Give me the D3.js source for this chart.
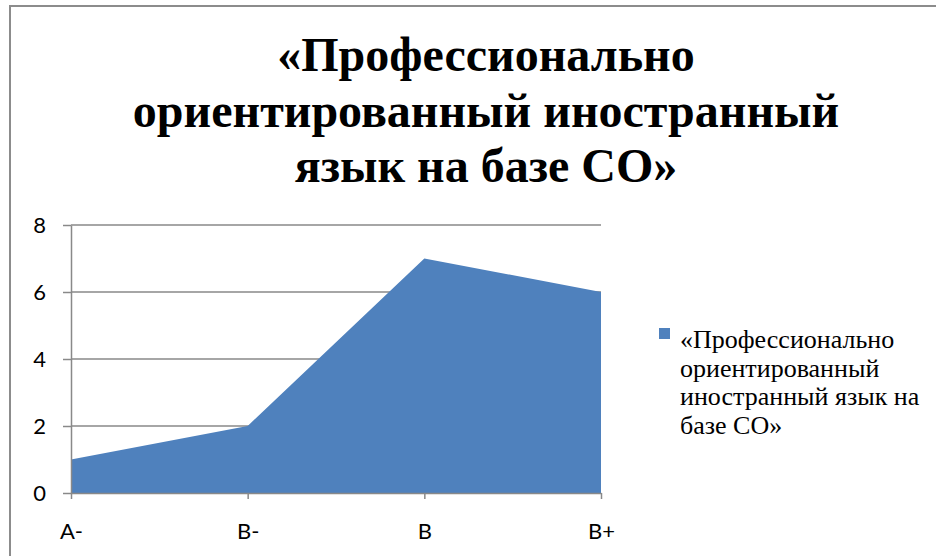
<!DOCTYPE html>
<html>
<head>
<meta charset="utf-8">
<script src="https://cdn.jsdelivr.net/npm/d3@7"></script>
<style>
    html, body { margin: 0; padding: 0; background: #fff; }
    svg { display: block; }
</style>
</head>
<body>
<div id="chart"></div>
<script>
// chart data
const categories = ["A-", "B-", "B", "B+"];
const values = [1, 2, 7, 6];
const yTicks = [0, 2, 4, 6, 8];
const titleLines = ["«Профессионально", "ориентированный иностранный", "язык на базе СО»"];
const legendLines = ["«Профессионально", "ориентированный", "иностранный язык на", "базе СО»"];

const W = 936, H = 556;
const margin = {top: 225, right: 335, bottom: 63, left: 71};
const width = W - margin.left - margin.right;
const height = H - margin.top - margin.bottom;

const svg = d3.select("#chart")
    .append("svg")
    .attr("width", W)
    .attr("height", H);

// outer chart frame (only top and left edges visible in the crop)
svg.append("rect")
    .attr("x", 10).attr("y", 6)
    .attr("width", W).attr("height", H)
    .attr("fill", "none")
    .attr("stroke", "#8c8c8c")
    .attr("stroke-width", 2);

// title
svg.append("g")
    .selectAll("text")
    .data(titleLines)
    .join("text")
    .attr("x", 486)
    .attr("y", (d, i) => 71 + i * 55.5)
    .attr("text-anchor", "middle")
    .style("font-family", "'Liberation Serif', 'Times New Roman', serif")
    .style("font-weight", "bold")
    .style("font-size", "48px")
    .attr("fill", "#000")
    .text(d => d);

const g = svg.append("g")
    .attr("transform", "translate(" + margin.left + "," + margin.top + ")");

const x = d3.scalePoint()
    .domain(categories)
    .range([0, width]);

const y = d3.scaleLinear()
    .domain([0, 8])
    .range([height, 0]);

// gridlines
g.append("g")
    .selectAll("line")
    .data(yTicks.filter(t => t > 0))
    .join("line")
    .attr("x1", 0).attr("x2", width)
    .attr("y1", d => y(d)).attr("y2", d => y(d))
    .attr("stroke", "#898989")
    .attr("stroke-width", 1.5);

// area
const area = d3.area()
    .x((d, i) => x(categories[i]))
    .y0(y(0))
    .y1(d => y(d));

g.append("path")
    .datum(values)
    .attr("fill", "#4f81bd")
    .attr("d", area);

// y axis
const yAxis = g.append("g")
    .call(d3.axisLeft(y).tickValues(yTicks).tickSize(8).tickPadding(17).tickSizeOuter(0));

// x axis
const xAxis = g.append("g")
    .attr("transform", "translate(0," + height + ")")
    .call(d3.axisBottom(x).tickSize(6).tickPadding(24).tickSizeOuter(0));

[yAxis, xAxis].forEach(function (ax) {
    ax.select(".domain").attr("stroke", "#898989").attr("stroke-width", 1.5);
    ax.selectAll(".tick line").attr("stroke", "#898989").attr("stroke-width", 1.5);
    ax.selectAll(".tick text")
        .attr("fill", "#000")
        .style("font-family", "Lato, 'Liberation Sans', sans-serif")
        .style("font-size", "22px");
});

// legend
const legend = svg.append("g")
    .attr("transform", "translate(659,328)");

legend.append("rect")
    .attr("width", 11).attr("height", 11)
    .attr("fill", "#4f81bd");

legend.append("text")
    .attr("x", 21)
    .attr("y", 20)
    .style("font-family", "'Liberation Serif', 'Times New Roman', serif")
    .style("font-size", "26px")
    .attr("fill", "#000")
    .selectAll("tspan")
    .data(legendLines)
    .join("tspan")
    .attr("x", 21)
    .attr("dy", (d, i) => i === 0 ? 0 : 28.5)
    .text(d => d);
</script>
</body>
</html>
